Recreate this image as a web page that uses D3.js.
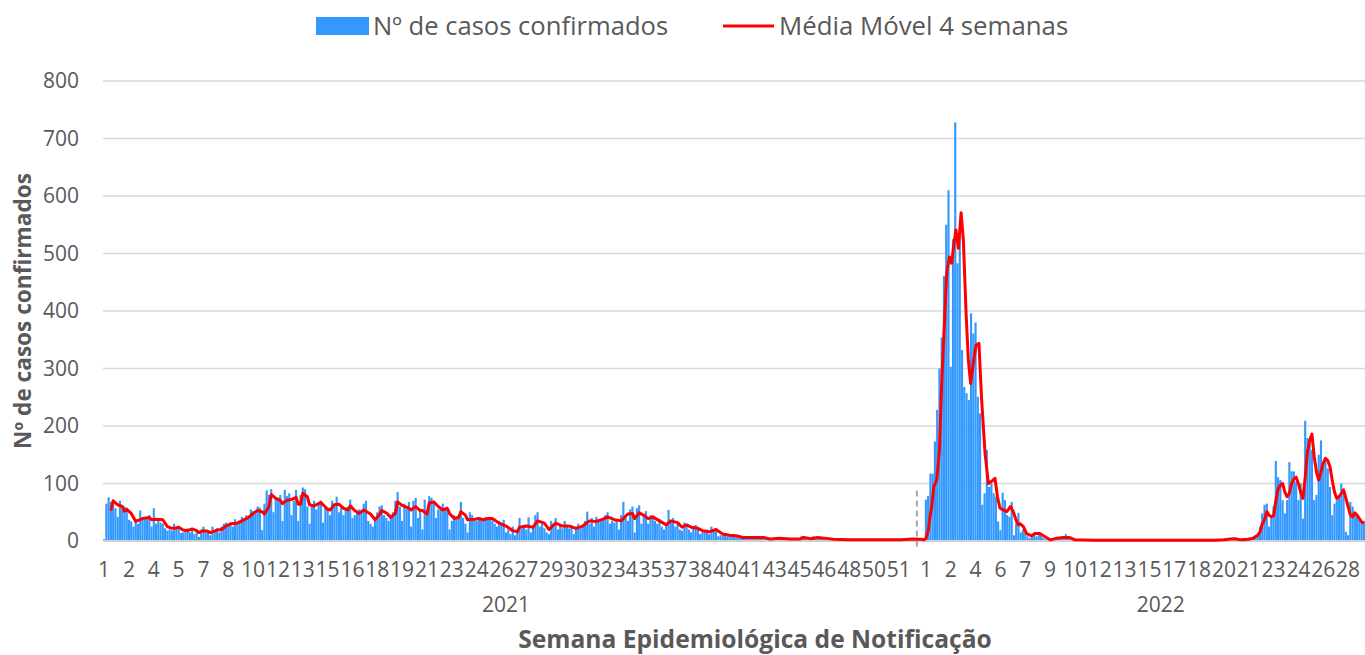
<!DOCTYPE html>
<html>
<head>
<meta charset="utf-8">
<script src="https://cdn.jsdelivr.net/npm/d3@7"></script>
<style>
  body { margin: 0; background: #fff; }
  svg { display: block; }
  text { font-family: "Open Sans", "Noto Sans", sans-serif; fill: #595959; }
</style>
</head>
<body>
<svg id="chart" width="1365" height="655"></svg>
<script>
// daily confirmed cases, one value per day, grouped by epi week in rows
const cases2021 = [
  3, 65, 76, 68, 70, 57, 42,
  70, 55, 60, 58, 37, 34, 25,
  37, 30, 53, 40, 38, 42, 45,
  25, 57, 30, 40, 32, 30, 22,
  18, 20, 18, 30, 22, 25, 14,
  15, 20, 22, 15, 22, 12, 17,
  7, 20, 25, 15, 18, 10, 25,
  18, 22, 15, 25, 30, 32, 28,
  30, 25, 38, 30, 35, 42, 38,
  45, 40, 55, 52, 48, 60, 58,
  19, 65, 88, 80, 90, 50, 75,
  75, 80, 35, 89, 78, 83, 45,
  70, 89, 35, 80, 93, 90, 60,
  30, 62, 70, 55, 68, 70, 32,
  60, 58, 45, 70, 65, 77, 50,
  60, 45, 55, 60, 72, 40, 45,
  50, 55, 52, 65, 70, 35, 30,
  25, 40, 50, 60, 62, 45, 40,
  35, 45, 50, 70, 85, 60, 35,
  65, 60, 68, 25, 70, 75, 40,
  55, 20, 72, 45, 78, 75, 70,
  40, 55, 55, 65, 55, 55, 20,
  35, 45, 40, 45, 68, 40, 30,
  15, 50, 45, 40, 35, 38, 40,
  35, 42, 40, 38, 36, 30, 25,
  35, 28, 37, 15, 20, 12, 25,
  10, 15, 40, 22, 28, 20, 41,
  15, 25, 45, 50, 25, 30, 22,
  15, 12, 35, 30, 40, 20, 30,
  22, 35, 25, 22, 28, 12, 25,
  30, 22, 28, 35, 51, 30, 40,
  25, 42, 35, 38, 38, 45, 50,
  30, 35, 32, 38, 20, 45, 68,
  40, 35, 55, 60, 15, 57, 62,
  30, 45, 52, 30, 45, 40, 35,
  30, 38, 25, 20, 30, 54, 35,
  40, 25, 30, 20, 18, 32, 30,
  20, 15, 25, 28, 22, 12, 15,
  18, 20, 12, 25, 18, 22, 8,
  10, 10, 12, 8, 10, 10, 8,
  8, 5, 6, 5, 7, 5, 6,
  8, 5, 6, 8, 4, 6, 3,
  2, 4, 5, 4, 6, 4, 3,
  4, 3, 4, 3, 2, 3, 4,
  5, 9, 8, 3, 2, 3, 8,
  6, 7, 4, 5, 5, 3, 2,
  3, 2, 2, 3, 2, 1, 2,
  2, 1, 3, 2, 2, 1, 2,
  2, 1, 2, 1, 2, 2, 1,
  2, 1, 2, 2, 1, 2, 2,
  1, 2, 3, 2, 1, 2, 3,
  4, 3, 2, 3, 4, 2, 1
];
const cases2022 = [
  72, 78, 117, 117, 173,
  228, 300, 354, 461, 550, 610, 303,
  525, 728, 483, 530, 332, 268, 257,
  245, 396, 361, 380, 251, 222, 63,
  83, 158, 94, 100, 83, 77, 34,
  19, 84, 71, 45, 42, 68, 10,
  31, 49, 15, 20, 16, 8, 5,
  10, 15, 8, 15, 10, 5, 3,
  2, 3, 5, 6, 6, 4, 5,
  8, 12, 6, 4, 3, 2, 1,
  2, 1, 1, 2, 1, 0, 1,
  2, 1, 1, 0, 2, 1, 1,
  1, 2, 0, 1, 1, 2, 1,
  1, 0, 1, 2, 1, 1, 0,
  1, 1, 2, 1, 0, 1, 1,
  2, 1, 1, 0, 1, 2, 1,
  1, 1, 0, 1, 2, 1, 1,
  0, 1, 1, 2, 1, 1, 2,
  1, 2, 1, 1, 2, 2, 1,
  2, 3, 2, 4, 3, 5, 4,
  3, 2, 2, 3, 4, 6, 5,
  7, 9, 13, 25, 48, 63, 65,
  25, 45, 60, 139, 111, 106, 71,
  48, 71, 137, 121, 121, 103, 71,
  100, 39, 209, 179, 173, 158, 71,
  80, 150, 175, 138, 141, 126, 94,
  45, 65, 71, 74, 100, 85, 16,
  10, 68, 60, 45, 42, 37, 31,
  35
];

// moving average line as [day of year, value]
const media2021 = [
  [3,53],[4,70],[6,63],[8,60],[9,52],[10,55],[12,48],[14,34],[17,39],[20,41],[21,37],[23,38],
  [26,37],[28,25],[30,22],[31,22],[33,24],[35,19],[37,18],[39,21],[41,18],[42,14.5],[44,18],
  [46,17],[47,14.5],[50,19],[52,20],[54,26],[56,30],[59,31],[61,35],[64,41],[66,48],[68,53],
  [70,51],[71,47],[73,60],[74,81],[76,74],[78,71],[79,65],[81,71],[83,72],[85,76],[86,64],
  [87,64],[88,83],[90,77],[91,63],[93,61],[96,67],[99,55],[100,54],[102,63],[104,64],[106,57],
  [108,54],[109,61],[111,53],[113,48],[115,54],[118,47],[120,37],[122,46],[123,53],[125,49],
  [127,41],[129,48],[130,68],[132,62],[135,57],[136,54],[138,60],[140,53],[141,53],[143,47],
  [144,66],[146,68],[148,60],[150,54],[152,57],[153,48],[155,39],[157,41],[158,51],[160,45],
  [161,37],[164,38],[166,39],[168,37],[170,39],[172,39],[175,31],[178,26],[181,18],[183,16],
  [184,24],[187,26],[190,24],[192,35],[195,31],[197,20],[200,31],[203,26],[206,26],[209,22],
  [212,26],[215,35],[218,34],[221,38],[223,42],[226,37],[229,35],[232,47],[234,48],[235,39],
  [237,49],[239,45],[241,39],[243,42],[246,35],[249,28],[251,35],[254,32],[256,24],[258,28],
  [260,24],[263,22],[265,18],[268,16],[271,20],[274,12],[277,10],[280,9],[283,6],[288,6],
  [292,6],[295,3.5],[299,4.6],[304,3.5],[308,3.5],[310,6],[313,4],[316,6],[319,5],[323,3],
  [330,2],[338,2],[353,2],[358,3.5],[362,3],[363,2]
];
const media2022 = [
  [0,4],[1.1,19],[1.8,42],[2.6,60],[3.5,95],[4.8,106],[6,158],[7,274],[8.2,379],[9.2,465],
  [10.4,494],[11.4,483],[12.45,518],[13.3,541],[14.4,509],[15.6,571],[16.6,523],[17.8,396],
  [18.8,315],[19.8,274],[21,309],[22.2,341],[23.5,344],[24.7,245],[26.2,152],[27.7,100],
  [28.8,103],[30.6,109],[31.7,77],[32.8,57],[34.3,54],[35.8,51],[37.5,60],[38.7,51],[40.2,34],
  [41,28],[41.7,30],[43.2,25],[44.6,13],[46.8,9],[48.3,13],[50.5,13],[52.8,7.5],[55,2],
  [57.9,4.6],[60.9,6],[63.8,6],[66,2],[75,1.5],[90,1.5],[105,1.5],[120,1.5],[128,1.5],
  [132,2],[135,3.5],[137,4],[139.6,2],[143,3],[145,5],[147,10],[148,16],[149,30],[150,37],
  [151,51],[152,45],[153,42],[154,44],[155,70],[156,90],[157,97],[158,100],[159,85],[160,77],
  [161,83],[162,100],[163,108],[164,111],[165,100],[166,85],[167,74],[168,110],[169,155],
  [170,175],[171,186],[172,147],[173,120],[174,106],[175,120],[176,135],[177,144],[178,140],
  [179,129],[180,105],[181,85],[182,74],[183,77],[184,83],[185,89],[186,75],[187,60],[188,45],
  [189,42],[190,49],[191,45],[192,39],[193,33],[194,31]
];

// week labels Excel shows on the axis (every 11th day)
const weekTicks2021 = [1,2,4,5,7,8,10,12,13,15,16,18,19,21,23,24,26,27,29,30,32,34,35,37,38,40,41,43,45,46,48,50,51];
const weekTicks2022 = [1,2,4,6,7,9,10,12,13,15,17,18,20,21,23,24,26,28];
const years = ["2021", "2022"];
const yearLabelDay = [178, 468];   // where the year captions sit on the day axis
const yTicks = [0, 100, 200, 300, 400, 500, 600, 700, 800];
const labelEvery = 11;
const markerDay = 360.5;   // dashed marker near the turn of the year
const markerTop = 88;

const legendLabels = ["Nº de casos confirmados", "Média Móvel 4 semanas"];
const barColor = "#3399ff";
const lineColor = "#ff0000";

const svg = d3.select("#chart");
const plotLeft = 103, plotRight = 1365, plotTop = 81, plotBottom = 541;

const nDays = cases2021.length + cases2022.length;
const off2022 = cases2021.length;
const allCases = cases2021.concat(cases2022);

const x = d3.scaleLinear().domain([0, nDays]).range([plotLeft, plotRight]);
const y = d3.scaleLinear().domain([0, 800]).range([plotBottom, plotTop]);

// gridlines
svg.append("g").selectAll("line").data(yTicks.filter(d => d > 0)).enter()
  .append("line")
  .attr("x1", plotLeft).attr("x2", plotRight)
  .attr("y1", d => y(d)).attr("y2", d => y(d))
  .attr("stroke", "#d9d9d9").attr("stroke-width", 1.5);

// y tick labels
svg.append("g").selectAll("text").data(yTicks).enter()
  .append("text")
  .attr("x", 79).attr("y", d => y(d) + 7)
  .attr("text-anchor", "end")
  .style("font-size", "21px")
  .text(d => d);

// bars
svg.append("g").selectAll("rect").data(allCases).enter()
  .append("rect")
  .attr("x", (d, i) => x(i) + 0.05)
  .attr("width", (d, i) => x(i + 1) - x(i) - 0.1)
  .attr("y", d => y(d))
  .attr("height", d => y(0) - y(d))
  .attr("fill", barColor);

// axis baseline
svg.append("line")
  .attr("x1", plotLeft).attr("x2", plotRight)
  .attr("y1", y(0)).attr("y2", y(0))
  .attr("stroke", "#d0d0d0").attr("stroke-width", 2);

// dashed marker
svg.append("line")
  .attr("x1", x(markerDay)).attr("x2", x(markerDay))
  .attr("y1", y(markerTop)).attr("y2", y(0) + 9)
  .attr("stroke", "#a6a6a6").attr("stroke-width", 2)
  .attr("stroke-dasharray", "6,4");

// moving average line
const mediaAll = media2021.concat(media2022.map(d => [d[0] + off2022, d[1]]));
const line = d3.line().x(d => x(d[0] + 0.5)).y(d => y(d[1]));
svg.append("path")
  .attr("d", line(mediaAll))
  .attr("fill", "none")
  .attr("stroke", lineColor)
  .attr("stroke-width", 3)
  .attr("stroke-linejoin", "round");

// week labels
const tickRows = [
  { ticks: weekTicks2021, offset: 0 },
  { ticks: weekTicks2022, offset: off2022 }
];
tickRows.forEach(r => {
  svg.append("g").selectAll("text").data(r.ticks).enter()
    .append("text")
    .attr("x", (d, i) => x(r.offset + i * labelEvery + 0.5))
    .attr("y", 577)
    .attr("text-anchor", "middle")
    .style("font-size", "21px")
    .text(d => d);
});

// year labels
svg.append("g").selectAll("text").data(years).enter()
  .append("text")
  .attr("x", (d, i) => x(yearLabelDay[i] + 0.5))
  .attr("y", 612)
  .attr("text-anchor", "middle")
  .style("font-size", "21px")
  .text(d => d);

// axis titles
svg.append("text")
  .attr("x", (plotLeft + plotRight) / 2 + 21).attr("y", 648)
  .attr("text-anchor", "middle")
  .style("font-size", "24.6px").style("font-weight", "bold")
  .text("Semana Epidemiológica de Notificação");

svg.append("text")
  .attr("transform", `translate(31, ${(plotTop + plotBottom) / 2}) rotate(-90)`)
  .attr("text-anchor", "middle")
  .style("font-size", "22.6px").style("font-weight", "bold")
  .text("Nº de casos confirmados");

// legend
const legend = svg.append("g");
legend.append("rect")
  .attr("x", 316).attr("y", 17).attr("width", 53).attr("height", 18)
  .attr("fill", barColor);
legend.append("text")
  .attr("x", 373).attr("y", 35)
  .style("font-size", "25.6px")
  .text(legendLabels[0]);
legend.append("line")
  .attr("x1", 723).attr("x2", 774).attr("y1", 26).attr("y2", 26)
  .attr("stroke", lineColor).attr("stroke-width", 3);
legend.append("text")
  .attr("x", 779).attr("y", 35)
  .style("font-size", "25.8px")
  .text(legendLabels[1]);
</script>
</body>
</html>
